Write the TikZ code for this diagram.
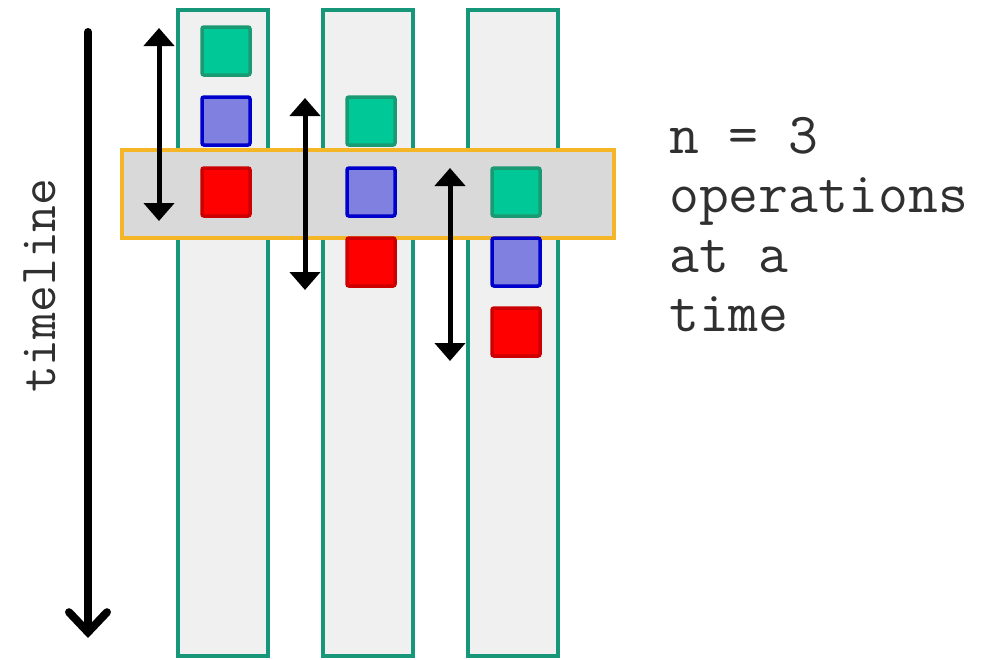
\documentclass[tikz,border=0pt]{standalone}
\usetikzlibrary{arrows.meta}

\definecolor{colfill}{HTML}{F0F0F0}
\definecolor{colline}{HTML}{17977A}
\definecolor{bandfill}{HTML}{D9D9D9}
\definecolor{bandline}{HTML}{F4B626}
\definecolor{opgreen}{HTML}{00C896}
\definecolor{opgreenline}{HTML}{1A9A72}
\definecolor{opblue}{HTML}{8080E0}
\definecolor{opblueline}{HTML}{0000CC}
\definecolor{opred}{HTML}{FF0000}
\definecolor{opredline}{HTML}{CC0000}
\definecolor{txt}{HTML}{303030}

\tikzset{
  lane/.style={draw=colline, fill=colfill, line width=4pt, minimum width=90pt,
    minimum height=646pt, inner sep=0pt},
  window/.style={draw=bandline, fill=bandfill, line width=4pt, minimum width=492pt,
    minimum height=88pt, inner sep=0pt},
  op/.style={line width=3.5pt, rounded corners=2pt, minimum size=48pt, inner sep=0pt},
  opG/.style={op, draw=opgreenline, fill=opgreen},
  opB/.style={op, draw=opblueline, fill=opblue},
  opR/.style={op, draw=opredline, fill=opred},
  span/.style={line width=5pt, {Triangle[length=18pt,width=30pt]}-{Triangle[length=18pt,width=30pt]}},
  timearrow/.style={line width=8pt, line cap=round, -{Straight Barb[length=20pt,width=38pt,line cap=round]}},
  label/.style={font=\ttfamily\fontsize{58}{59}\selectfont, text=txt, inner sep=0pt, anchor=base west}
}

\begin{document}
\begin{tikzpicture}[x=1pt,y=-1pt]
  \useasboundingbox (0,0) rectangle (983,659);

  % three worker lanes
  \node[lane] (lane1) at (223,333) {};
  \node[lane] (lane2) at (368,333) {};
  \node[lane] (lane3) at (513,333) {};

  % window of operations running at the same moment
  \node[window] (band) at (368,194) {};

  % operations in each lane
  \node[opG] (g1) at (226,51)  {};
  \node[opB] (b1) at (226,121) {};
  \node[opR] (r1) at (226,192) {};

  \node[opG] (g2) at (371,121) {};
  \node[opB] (b2) at (371,192) {};
  \node[opR] (r2) at (371,262) {};

  \node[opG] (g3) at (516,192) {};
  \node[opB] (b3) at (516,262) {};
  \node[opR] (r3) at (516,332) {};

  % extent of each lane's run
  \coordinate (s1a) at (159,28);  \coordinate (s1b) at (159,221);
  \coordinate (s2a) at (305,98);  \coordinate (s2b) at (305,290);
  \coordinate (s3a) at (450,168); \coordinate (s3b) at (450,361);
  \draw[span] (s1a) -- (s1b);
  \draw[span] (s2a) -- (s2b);
  \draw[span] (s3a) -- (s3b);

  % time axis
  \coordinate (tA) at (88,32);
  \coordinate (tB) at (88,638);
  \draw[timearrow] (tA) -- (tB);
  \node[label, font=\ttfamily\fontsize{52}{56}\selectfont, rotate=90] (tl) at (55,393) {timeline};

  % explanation
  \node[label] (l1) at (669,153) {n = 3};
  \node[label] (l2) at (669,212) {operations};
  \node[label] (l3) at (669,272) {at a};
  \node[label] (l4) at (669,331) {time};
\end{tikzpicture}
\end{document}
